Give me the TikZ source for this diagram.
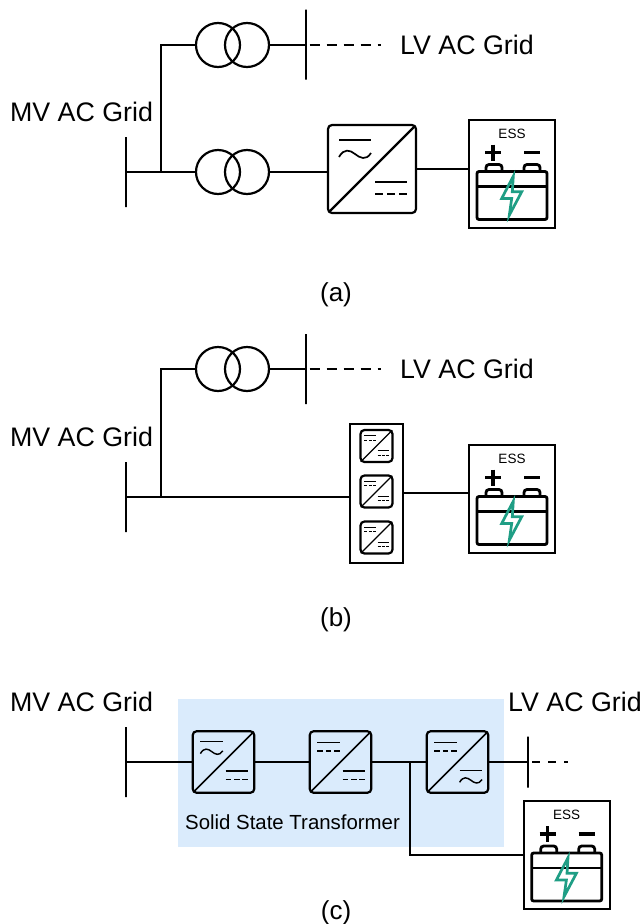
\documentclass[tikz,border=0pt]{standalone}
\usepackage{fontspec}
\setmainfont{Liberation Sans}
\usetikzlibrary{arrows,positioning,shapes}
\definecolor{sstblue}{HTML}{DAEBFC}
\definecolor{boltgreen}{HTML}{1F9E85}

% symbols inside a converter box
\tikzset{
  pics/dcsym/.style={code={
    \draw (-16,-6) -- (16,-6);
    \draw (-16,6) -- (-8,6) (-4,6) -- (4,6) (8,6) -- (16,6);
  }},
  pics/acsym/.style={code={
    \draw (-16,-7) -- (16,-7);
    \draw (-16,10) .. controls (-11,1) and (-5,3) .. (0,7) .. controls (5,11) and (11,14) .. (16,6);
  }}
}
% name, position, scale, upper symbol, lower symbol
\newcommand{\conv}[5]{
  \node[convbox,minimum size=88pt*#3] (#1) at (#2) {};
  \begin{scope}[shift={(#2)},scale=#3,line width=.9pt*#3+.8pt]
    \draw[line width=1.6pt*#3+.6pt] (-43,43) -- (43,-43);
    \pic[transform shape] at (-17,-22) {#4};
    \pic[transform shape] at (19,19) {#5};
  \end{scope}
}
% name, position
\newcommand{\ess}[2]{
  \node[essbox] (#1) at (#2) {};
  \begin{scope}[shift={(#2)}]
    \node[esslab] (#1lab) at (0,-40) {ESS};
    \draw[batline,rounded corners=3] (-26,-2) -- (-26,-9) -- (-10,-9) -- (-10,-2);
    \draw[batline,rounded corners=3] (12,-2) -- (12,-9) -- (28,-9) -- (28,-2);
    \draw[batline,rounded corners=2] (-35,-2) rectangle (35,46);
    \draw[batline] (-35,13) -- (35,13);
    \draw[line width=3.2pt] (-27,-21) -- (-11,-21) (-19,-29) -- (-19,-13) (12,-21) -- (28,-21);
    \draw[boltgreen,line width=2.7pt] (1.3,2.7) -- (-10.3,25) -- (-.3,25) -- (-2.7,41.7) -- (9.7,18.3) -- (.3,18.3) -- cycle;
  \end{scope}
}

\begin{document}
\begin{tikzpicture}[
            x=1pt,y=-1pt,
            bus/.style={draw,rectangle,line width=2pt,inner sep=0,minimum width=0,minimum height=70},
            trafo/.style={draw,circle,line width=2.2pt,inner sep=0,minimum size=44,node distance=29},
            convbox/.style={draw,rectangle,rounded corners=4,line width=2.2pt,inner sep=0},
            essbox/.style={draw,rectangle,line width=2pt,inner sep=0,minimum width=86,minimum height=108},
            stack/.style={draw,rectangle,line width=2pt,inner sep=0,minimum width=53,minimum height=139},
            batline/.style={line width=2.8pt},
            esslab/.style={inner sep=0,font=\fontsize{13.5}{16}\selectfont},
            lab/.style={inner sep=0,font=\fontsize{26.8}{30}\selectfont},
            sub/.style={inner sep=0,font=\fontsize{26}{30}\selectfont},
            wire/.style={draw,line width=2pt},
            trunk/.style={draw,line width=2.5pt},
            gridline/.style={draw,line width=2pt,dash pattern=on 10pt off 7pt,dash phase=13pt}
          ]
          \useasboundingbox (0,0) rectangle (644,924);
          \fill[sstblue] (177.5,699) rectangle (504,847);

          %case a
          \node[bus] (busa) at (126,172) {};
          \node[bus] (lvbusa) at (305.5,44.7) {};
          \node[trafo] (tr1a) at (218,45) {};
          \node[right of = tr1a,trafo] (tr2a) {};
          \node[trafo] (tr3a) at (218,172) {};
          \node[right of = tr3a,trafo] (tr4a) {};
          \conv{conva}{372,169}{1}{acsym}{dcsym}
          \ess{essa}{512,173.5}
          \coordinate (joina) at (161,172);
          \coordinate (enda) at (381,45);

          \node[lab] (mva) at (81.5,112) {MV AC Grid};
          \node[lab] (lva) at (467,45) {LV AC Grid};
          \node[sub] (capa) at (336,295) {(a)};

          \draw[trunk] (busa.center |- joina) -- (tr3a);
          \draw[wire] (joina) |- (tr1a);
          \draw[trunk] (tr2a) -- (lvbusa.center |- tr2a);
          \draw[gridline] (lvbusa.center |- tr2a) -- (enda);
          \draw[wire] (tr4a) -- (tr4a -| conva.west);
          \draw[wire] (conva.east) -- (conva.east -| essa.west);

          %case b
          \node[bus] (busb) at (126,497) {};
          \node[bus] (lvbusb) at (305.5,369) {};
          \node[trafo] (tr1b) at (218,369) {};
          \node[right of = tr1b,trafo] (tr2b) {};
          \node[stack] (stackb) at (376.5,493) {};
          \conv{convb}{376.5,446}{.364}{dcsym}{dcsym}
          \conv{convc}{376.5,491.5}{.364}{dcsym}{dcsym}
          \conv{convd}{376.5,537.5}{.364}{dcsym}{dcsym}
          \ess{essb}{512,498.5}
          \coordinate (joinb) at (161,497);
          \coordinate (trunkb) at (196,497);
          \coordinate (endb) at (381,369);

          \node[lab] (mvb) at (81.5,437) {MV AC Grid};
          \node[lab] (lvb) at (467,369) {LV AC Grid};
          \node[sub] (capb) at (336,620) {(b)};

          \draw[wire] (trunkb) -- (joinb -| stackb.west);
          \draw[trunk] (busb.center |- joinb) -- (trunkb);
          \draw[wire] (joinb) |- (tr1b);
          \draw[trunk] (tr2b) -- (lvbusb.center |- tr2b);
          \draw[gridline] (lvbusb.center |- tr2b) -- (endb);
          \draw[wire] (stackb.east) -- (stackb.east -| essb.west);

          %case c
          \node[bus] (busc) at (126,762) {};
          \node[bus,minimum height=51] (lvbusc) at (528,762) {};
          \conv{conve}{223.5,762}{.7}{acsym}{dcsym}
          \conv{convf}{340.5,762}{.7}{dcsym}{dcsym}
          \conv{convg}{457.5,762}{.7}{dcsym}{acsym}
          \ess{essc}{566.7,855}
          \coordinate (joinc) at (410,762);
          \coordinate (endc) at (568,762);

          \node[lab] (mvc) at (81.5,702) {MV AC Grid};
          \node[lab] (lvc) at (575,702) {LV AC Grid};
          \node[inner sep=0,font=\fontsize{20.4}{24}\selectfont] (sst) at (292.5,822.5) {Solid State Transformer};
          \node[sub] (capc) at (336,913) {(c)};

          \draw[wire] (busc.center) -- (conve);
          \draw[wire] (conve) -- (convf);
          \draw[wire] (convf) -- (convg);
          \draw[wire] (convg) -- (lvbusc.center);
          \draw[gridline,dash pattern=on 8pt off 8pt,dash phase=12pt] (lvbusc.center) -- (endc);
          \draw[wire] (joinc) |- (essc);
      \end{tikzpicture}
\end{document}
